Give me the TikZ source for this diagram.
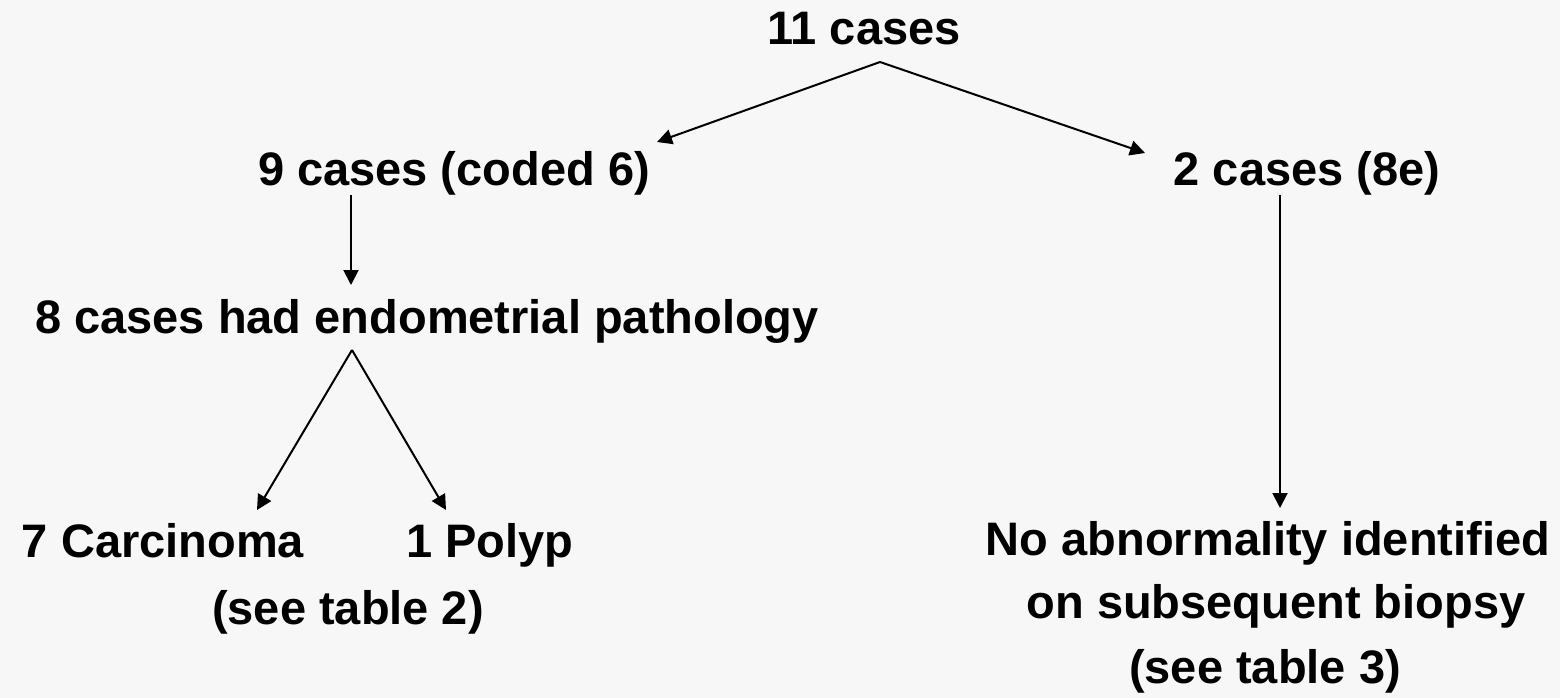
\documentclass[tikz,border=0pt]{standalone}
\usepackage{fontspec}
\setmainfont{Liberation Sans}
\usepackage{tikz}
\usetikzlibrary{arrows.meta}

\begin{document}
\begin{tikzpicture}[x=1pt, y=-1pt,
    txt/.style = {inner sep=0pt, anchor=base, font=\bfseries\fontsize{47}{56}\selectfont},
    arr/.style = {line width=2pt, -{Triangle[length=15pt, width=15pt]}}]

    % Ozadje
    \fill[black!3] (0,0) rectangle (1560,698);
    \useasboundingbox (0,0) rectangle (1560,698);

    % Besedila
    \node[txt] (c11) at (864,45) {11 cases};
    \node[txt] (c9) at (454,185) {9 cases (coded 6)};
    \node[txt] (c2) at (1307,185) {2 cases (8e)};
    \node[txt] (path) at (427,333) {8 cases had endometrial pathology};
    \node[txt] (carc) at (163,557) {7 Carcinoma};
    \node[txt] (polyp) at (490,557) {1 Polyp};
    \node[txt] (tab2) at (348,624) {(see table 2)};
    \node[txt] (noab) at (1268,555) {No abnormality identified};
    \node[txt] (onsub) at (1276,618) {on subsequent biopsy};
    \node[txt] (tab3) at (1265,683) {(see table 3)};

    % Razcepi in konci puscic
    \coordinate (s11) at (880,62);
    \coordinate (e9) at (657,142);
    \coordinate (e2) at (1145,153);
    \coordinate (s9) at (351,195);
    \coordinate (epath) at (351,285);
    \coordinate (spath) at (352,350);
    \coordinate (ecarc) at (257,510);
    \coordinate (epolyp) at (446,510);
    \coordinate (s2) at (1280,195);
    \coordinate (enoab) at (1280,508);

    % Puscice
    \draw[arr] (s11) -- (e9);
    \draw[arr] (s11) -- (e2);
    \draw[arr] (s9) -- (epath);
    \draw[arr] (spath) -- (ecarc);
    \draw[arr] (spath) -- (epolyp);
    \draw[arr] (s2) -- (enoab);

\end{tikzpicture}
\end{document}
